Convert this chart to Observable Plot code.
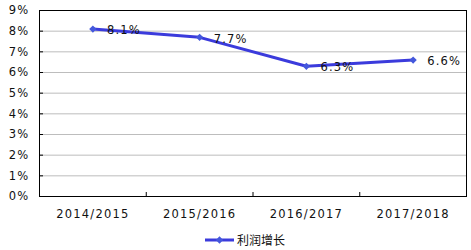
<!DOCTYPE html>
<html>
<head>
<meta charset="utf-8">
<script src="https://cdn.jsdelivr.net/npm/d3@7"></script>
<script src="https://cdn.jsdelivr.net/npm/@observablehq/plot@0.6"></script>
<style>
  html, body { margin: 0; padding: 0; background: #fff; }
  #chart { width: 471px; height: 250px; overflow: hidden; }
  .legend { height: 25px; display: flex; align-items: center; justify-content: flex-start; padding-left: 205px; box-sizing: border-box; padding-top: 4px; }
  .legend span { font-family: "Noto Sans CJK SC", sans-serif; font-size: 12px; color: #111; margin-left: 2px; line-height: 12px; }
</style>
</head>
<body>
<div id="chart"></div>
<script>
const categories = ["2014/2015", "2015/2016", "2016/2017", "2017/2018"];
const values = [8.1, 7.7, 6.3, 6.6];
const labels = ["8.1%", "7.7%", "6.3%", "6.6%"];
const yTicks = [0, 1, 2, 3, 4, 5, 6, 7, 8, 9];
const seriesName = "利润增长";

const lineColor = "#3b3bdc";
const markColor = "#4458dc";

const data = categories.map((c, i) => ({cat: c, pos: i + 0.5, value: values[i], label: labels[i]}));

const font = "DejaVu Sans, Verdana, sans-serif";

const plot = Plot.plot({
  width: 471,
  height: 225,
  marginLeft: 39,
  marginRight: 5,
  marginTop: 10,
  marginBottom: 29,
  style: {fontFamily: font, fontSize: "11.5px", color: "#111", background: "#fff", letterSpacing: "1.2px"},
  x: {type: "linear", domain: [0, categories.length]},
  y: {domain: [0, 9]},
  marks: [
    Plot.gridY(yTicks.slice(1, -1), {stroke: "#bdbdbd", strokeOpacity: 1}),
    Plot.axisY({ticks: yTicks, tickSize: 0, tickPadding: 10, tickFormat: d => d + "%", label: null}),
    Plot.axisY({ticks: yTicks, tickSize: -4, tickFormat: () => "", label: null, stroke: "#000"}),
    Plot.axisX({ticks: data.map(d => d.pos), tickSize: 0, tickPadding: 13, tickFormat: (d, i) => categories[i], label: null}),
    Plot.axisX({ticks: d3.range(1, categories.length), tickSize: -4, tickFormat: () => "", label: null, stroke: "#000"}),
    Plot.frame({stroke: "#000"}),
    Plot.line(data, {x: "pos", y: "value", stroke: lineColor, strokeWidth: 3}),
    Plot.dot(data, {x: "pos", y: "value", symbol: "diamond2", r: 3.3, fill: markColor, stroke: null}),
    Plot.text(data, {x: "pos", y: "value", text: "label", textAnchor: "start", dx: 14, dy: 1.5, fill: "#111", fontSize: 11.5})
  ]
});
document.getElementById("chart").appendChild(plot);

const legend = document.createElement("div");
legend.className = "legend";
const sw = d3.create("svg").attr("width", 30).attr("height", 10);
sw.append("line").attr("x1", 0).attr("x2", 29).attr("y1", 5).attr("y2", 5).attr("stroke", lineColor).attr("stroke-width", 3);
sw.append("path").attr("d", d3.symbol(d3.symbolDiamond2, Math.PI * 3.3 * 3.3)()).attr("transform", "translate(14.5,5)").attr("fill", markColor);
legend.appendChild(sw.node());
const t = document.createElement("span");
t.textContent = seriesName;
legend.appendChild(t);
document.getElementById("chart").appendChild(legend);
</script>
</body>
</html>
